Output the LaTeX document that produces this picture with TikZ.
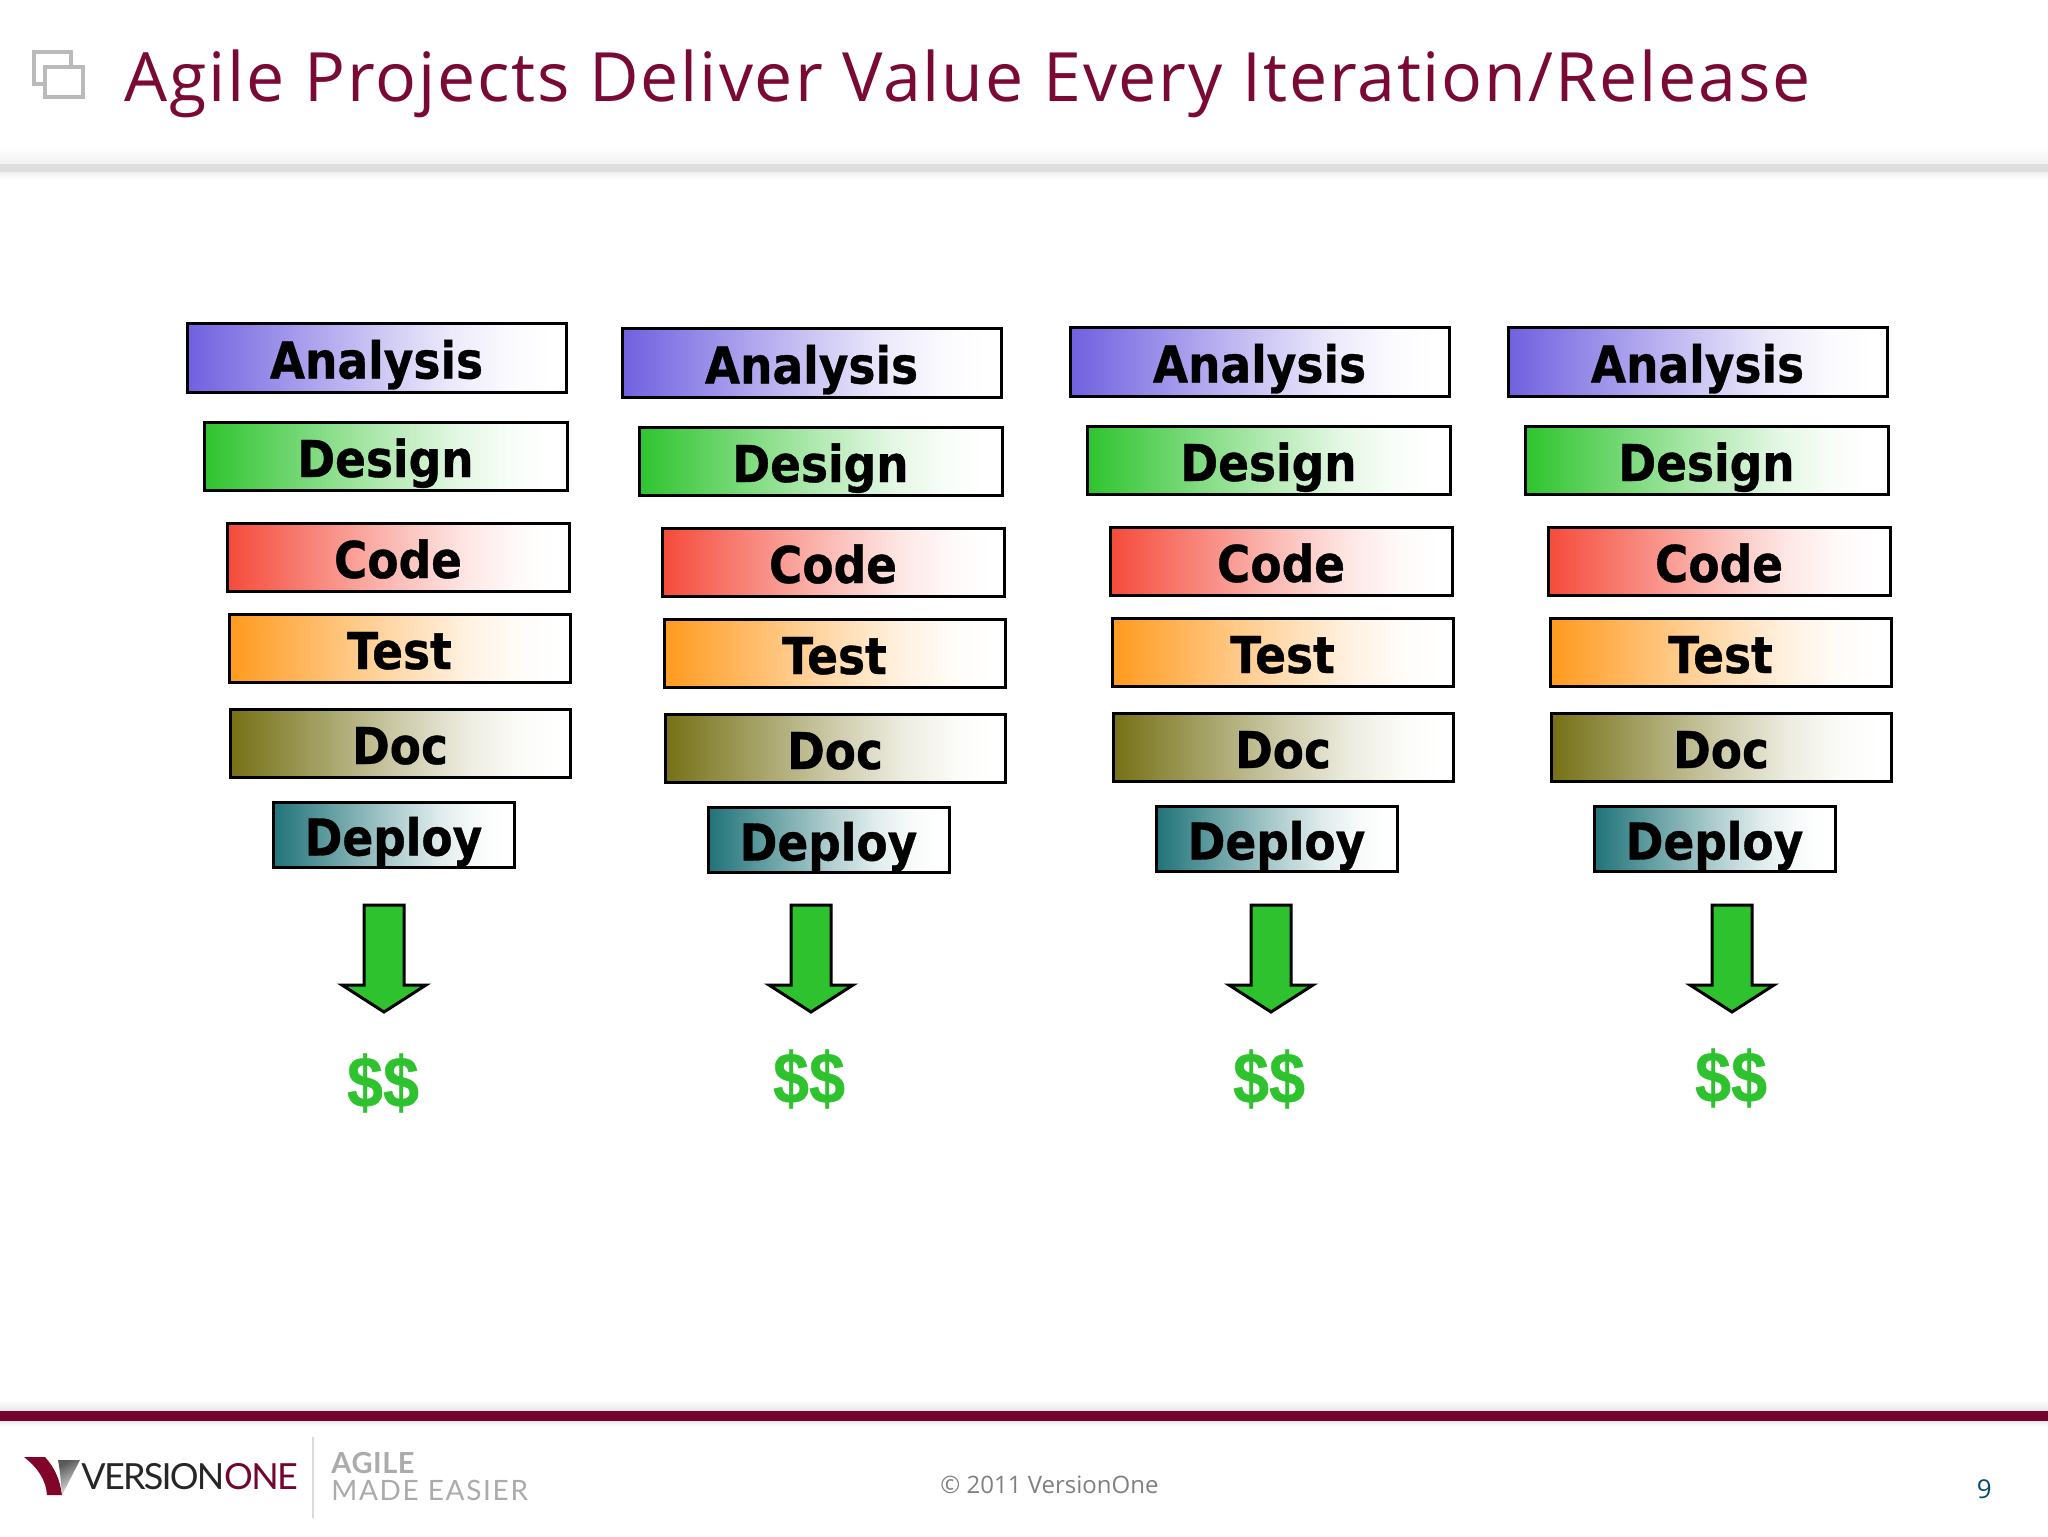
\documentclass[tikz,border=0pt]{standalone}
\usepackage{fontspec}
\setmainfont{Open Sans}
\newfontfamily\titlefont[LetterSpace=2.75]{Open Sans}
\newfontfamily\stagefont[FakeStretch=0.895,FakeBold=0.7]{DejaVu Sans Bold}
\newfontfamily\dollarfont[FakeStretch=0.9,FakeBold=0.5]{Liberation Sans Bold}
\newfontfamily\logofont[LetterSpace=-5]{Lato}
\newfontfamily\tagfont[LetterSpace=6]{Lato}
\newfontfamily\tagboldfont[LetterSpace=2]{Lato Bold}
\usetikzlibrary{calc}
\definecolor{wine}{HTML}{74062D}
\definecolor{titlewine}{HTML}{7A0A35}
\definecolor{cAnalysis}{HTML}{7060E0}
\definecolor{cDesign}{HTML}{2EC42E}
\definecolor{cCode}{HTML}{F54A3A}
\definecolor{cTest}{HTML}{FF9A1E}
\definecolor{cDoc}{HTML}{757015}
\definecolor{cDeploy}{HTML}{1F7378}
\definecolor{arrowgreen}{HTML}{2EC22E}
\definecolor{pagenum}{HTML}{0B4A70}
\colorlet{stagecol}{cAnalysis}
\pgfdeclarehorizontalshading[stagecol]{stageshade}{100bp}{
  color(0bp)=(stagecol); color(25bp)=(stagecol);
  color(37.5bp)=(stagecol!68!white); color(50bp)=(stagecol!36!white);
  color(60bp)=(stagecol!13!white); color(67.5bp)=(stagecol!3!white); color(73bp)=(white); color(100bp)=(white)}
\tikzset{
  stagebox/.style={draw=black,line width=1.5pt,inner sep=0pt,outer sep=0pt,
    text=black,font=\stagefont\fontsize{25.4}{26}\selectfont,
    text height=21pt,text depth=0pt,align=center,shade,shading=stageshade},
  downarrow/.style={draw=black,line width=1.5pt,fill=arrowgreen,miter limit=8},
  money/.style={text=arrowgreen,font=\dollarfont\fontsize{36}{38}\selectfont,inner sep=0pt},
  iconsq/.style={draw=black!27,line width=2pt,fill=white},
  greytag/.style={text=black!33,inner sep=0pt,anchor=base west},
}
\begin{document}
\begin{tikzpicture}[x=0.5pt,y=-0.5pt]
\useasboundingbox (0,0) rectangle (2048,1536);
\fill[white] (0,0) rectangle (2048,1536);
% header
\shade[top color=white,bottom color=black!5] (0,146) rectangle (2048,164);
\fill[black!13] (0,164) rectangle (2048,172);
\shade[top color=black!6,bottom color=white] (0,172) rectangle (2048,180);
\draw[iconsq] (34,52) rectangle (71,84);
\draw[iconsq] (45,67) rectangle (83,97);
\node[anchor=base west,inner sep=0pt,text=titlewine,font=\titlefont\fontsize{34}{36}\selectfont] (title) at (124,102) {Agile Projects Deliver Value Every Iteration/Release};
% columns
\foreach \c/\dx/\dy/\ax/\mx/\my in {a/0/0/0/383/1083,b/435/5/427/809/1079,c/883/4/887/1269/1079,d/1321/4/1348/1731/1078} {
  \foreach \n/\xa/\xb/\ya/\yb in {Analysis/186/567/322/393,Design/203/568/421/491,Code/226/570/522/592,Test/228/571/613/683,Doc/229/571/708/778,Deploy/272/515/801/868} {
    \pgfmathsetmacro\bw{(\xb-\xa-2)/2}
    \pgfmathsetmacro\bh{(\yb-\ya-2)/2}
    \pgfmathsetmacro\bx{(\xa+\xb)/2+\dx}
    \pgfmathsetmacro\by{(\ya+\yb)/2+\dy}
    \colorlet{stagecol}{c\n}
    \node[stagebox,minimum width=\bw pt,minimum height=\bh pt] (\c\n) at (\bx,\by) {\n};
  }
  \draw[downarrow,shift={(\ax*0.5pt,0pt)}] (364,905) -- (404,905) -- (404,985) -- (426,985) -- (384,1012) -- (342,985) -- (364,985) -- cycle;
  \node[money] (\c money) at (\mx,\my) {\$\$};
}
% footer
\shade[top color=white,bottom color=black!10] (0,1400) rectangle (2048,1411);
\fill[wine] (0,1411) rectangle (2048,1421);
\shade[top color=black!8,bottom color=white] (0,1421) rectangle (2048,1426);
% logo
\fill[wine!90!red] (24,1457) -- (45,1457) .. controls (55,1468) and (60,1480) .. (62,1495) -- (47,1495) .. controls (46,1480) and (38,1468) .. cycle;
\shade[left color=black!65,right color=black!8,shading angle=30] (58,1460) -- (80,1460) -- (62,1495) .. controls (61,1483) and (60,1470) .. cycle;
\node[anchor=base west,inner sep=0pt,text=black!85,font=\logofont\fontsize{18}{20}\selectfont] (logo) at (81,1489) {VERSION\textcolor{wine}{ONE}};
\draw[black!15,line width=0.6pt] (313,1437) -- (313,1518);
\node[greytag,font=\tagboldfont\fontsize{14.5}{16}\selectfont] (tag1) at (331,1473) {AGILE};
\node[greytag,font=\tagfont\fontsize{14}{16}\selectfont] (tag2) at (331,1500) {MADE EASIER};
\node[anchor=base west,inner sep=0pt,text=black!50,font=\fontsize{12}{14}\selectfont] (copy) at (940,1493) {© 2011 VersionOne};
\node[anchor=base east,inner sep=0pt,text=pagenum,font=\fontsize{13}{14}\selectfont] (page) at (1992,1498) {9};
\end{tikzpicture}
\end{document}
